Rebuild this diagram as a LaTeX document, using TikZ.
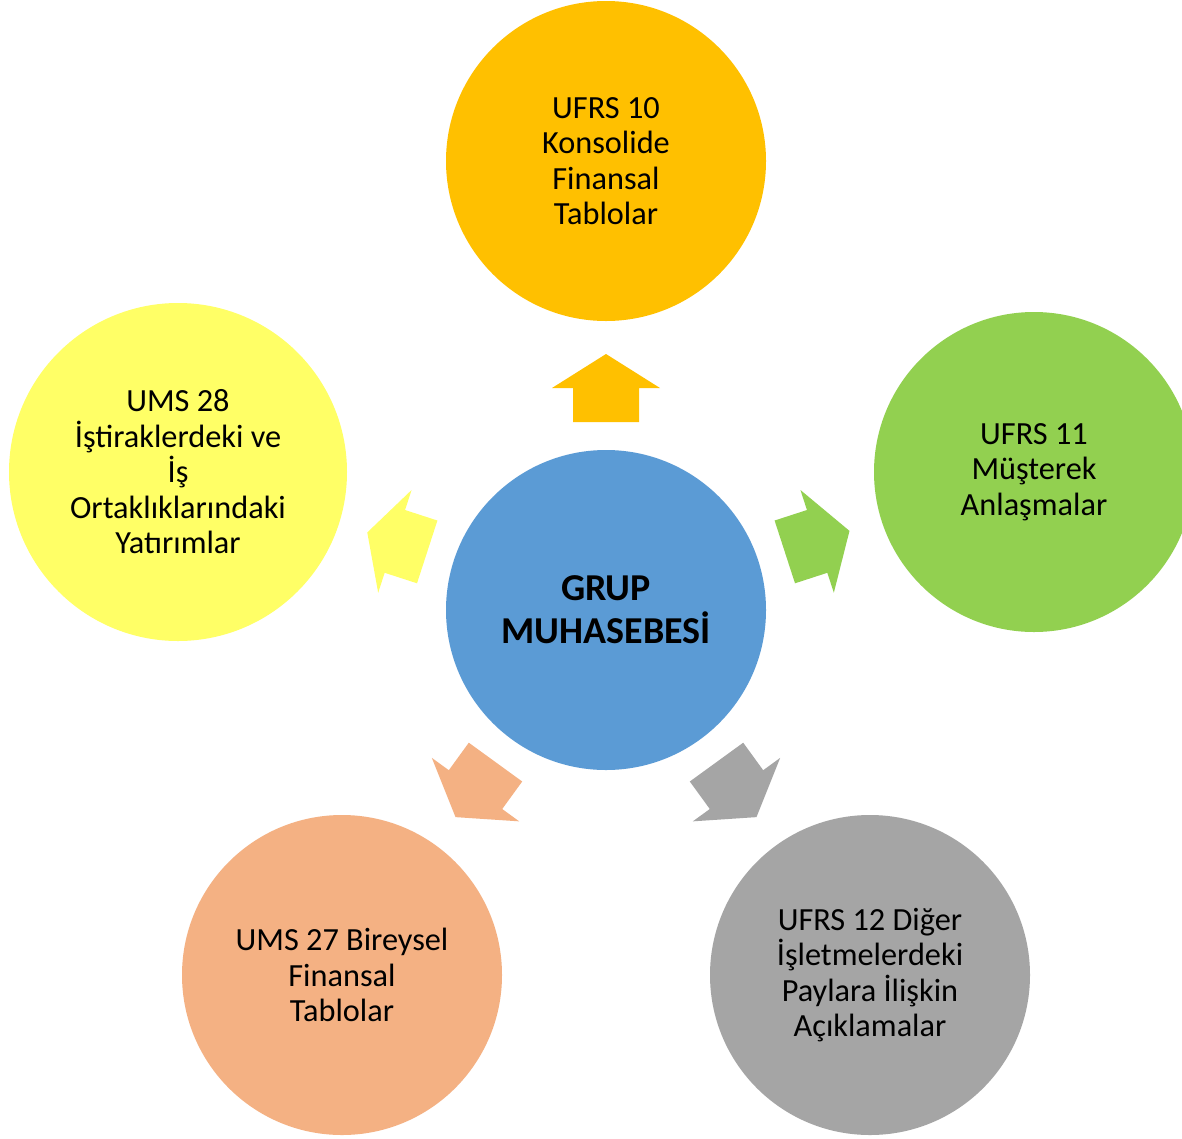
\documentclass[tikz,border=0pt]{standalone}
\usepackage{fontspec}
\setmainfont{Carlito}
\definecolor{cHub}{HTML}{5B9BD5}
\definecolor{cTop}{HTML}{FFC000}
\definecolor{cRight}{HTML}{92D050}
\definecolor{cLeft}{HTML}{FFFF66}
\definecolor{cLowLeft}{HTML}{F4B183}
\definecolor{cLowRight}{HTML}{A5A5A5}
\begin{document}
\begin{tikzpicture}[x=1pt,y=-1pt,
  bubble/.style={circle, inner sep=0pt, minimum size=320pt, align=center,
    font=\fontsize{32.3}{35.5}\selectfont, text=black},
  hubstyle/.style={bubble, fill=cHub, font=\bfseries\fontsize{38}{43}\selectfont},
  blockarrow/.style={fill=#1, draw=none}
]
\clip (0,0) rectangle (1182,1138);
\fill[white] (0,0) rectangle (1182,1138);

% central hub and the five surrounding standards
\node[hubstyle] (hub) at (606,610) {GRUP\\MUHASEBES\.I};
\node[bubble, fill=cTop] (top) at (606,161) {UFRS 10\\Konsolide\\Finansal\\Tablolar};
\node[bubble, fill=cRight] (right) at (1034,472) {UFRS 11\\Müşterek\\Anlaşmalar};
\node[bubble, fill=cLeft, minimum size=338pt] (left) at (178,472)
  {UMS 28\\İştiraklerdeki ve\\İş\\Ortaklıklarındaki\\Yatırımlar};
\node[bubble, fill=cLowLeft] (lowleft) at (342,975) {UMS 27 Bireysel\\Finansal\\Tablolar};
\node[bubble, fill=cLowRight] (lowright) at (870,975)
  {UFRS 12 Diğer\\İşletmelerdeki\\Paylara İlişkin\\Açıklamalar};

% block arrows radiating from the hub (angle / colour / tip distance)
\foreach \ang/\col/\tip in {90/cTop/256, 18/cRight/256, 162/cLeft/251,
                            -126/cLowLeft/256, -54/cLowRight/256}{
  \begin{scope}[shift={(hub.center)}, rotate=\ang]
    \fill[blockarrow=\col] (188,-33) -- (222,-33) -- (222,-54) -- (\tip,0)
      -- (222,54) -- (222,33) -- (188,33) -- cycle;
  \end{scope}
}
\end{tikzpicture}
\end{document}
